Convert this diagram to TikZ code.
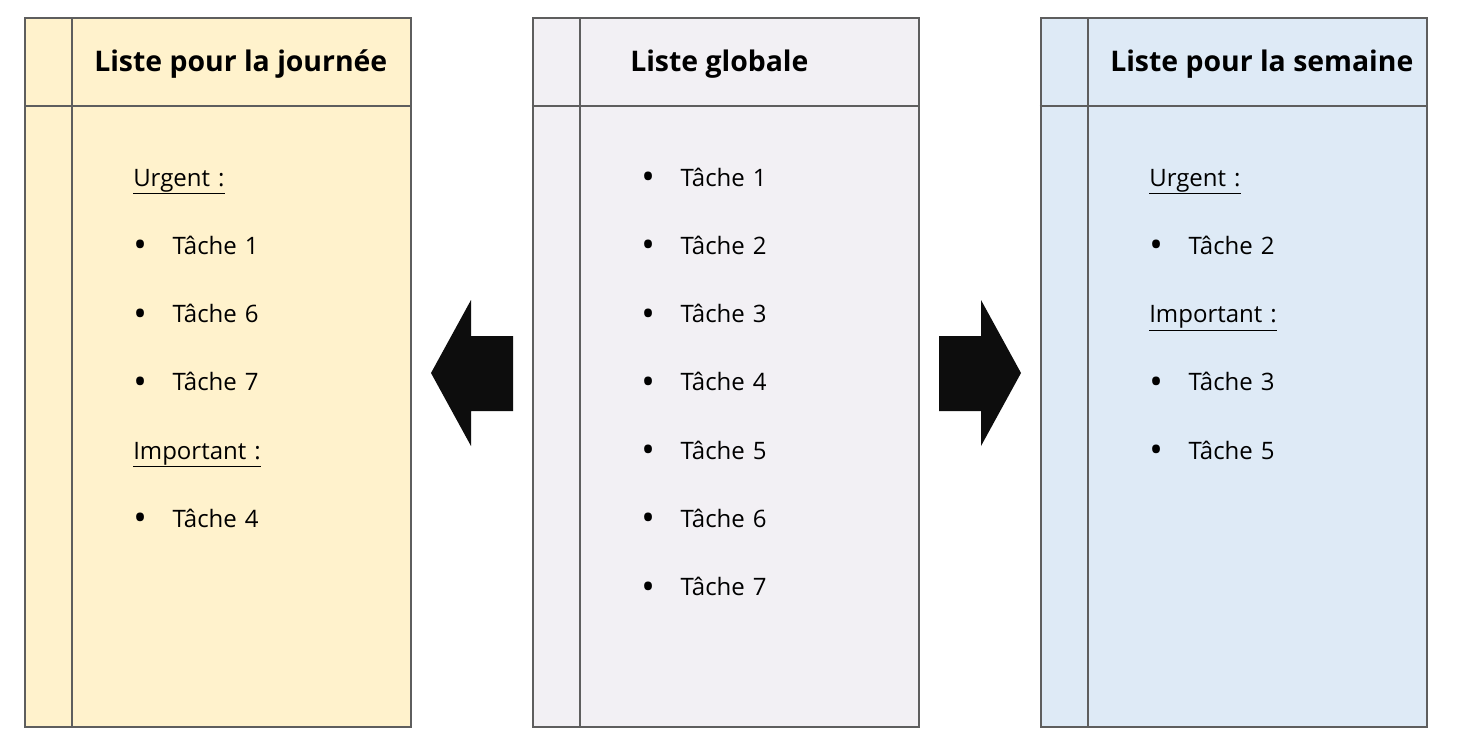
\documentclass[tikz,border=0pt]{standalone}
\usepackage{fontspec}
\setmainfont{Open Sans}
\usepackage{xcolor}
\usepackage{tikz}
\usetikzlibrary{shapes,arrows,positioning}
\definecolor{dayfill}{HTML}{FFF2CC}
\definecolor{globalfill}{HTML}{F2F0F4}
\definecolor{weekfill}{HTML}{DEEAF6}
\definecolor{framegray}{HTML}{5E5E5E}
\newcommand{\task}[1]{\makebox[29.5pt][l]{\raisebox{-2.6pt}{\scalebox{1.5}{\textbullet}}}#1}
\tikzstyle{panel} = [rectangle, draw=framegray, line width=1.5pt,
    minimum width=289.5pt, minimum height=531.75pt, inner sep=0pt]
\tikzstyle{listtitle} = [anchor=base west, inner sep=0pt,
    font=\fontsize{21.3}{24}\selectfont\bfseries]
\tikzstyle{item} = [inner sep=0pt, text width=170pt, align=left,
    text height=12pt, text depth=3pt, font=\fontsize{18}{20}\selectfont]
\tikzstyle{bigarrow} = [fill=black!95]
\tikzstyle{line} = [draw=framegray, line width=1.5pt]

\begin{document}
\begin{tikzpicture}[x=0.75pt, y=-0.75pt, node distance=51.2pt]
			\fill [white] (0,0) rectangle (1458,754);
			\useasboundingbox (0,0) rectangle (1458,754);
			% Place panels
			\node [panel, fill=dayfill] (dayPanel) at (218,372.5) {};
			\node [panel, fill=globalfill] (globalPanel) at (725.5,372.5) {};
			\node [panel, fill=weekfill] (weekPanel) at (1233.5,372.5) {};
			\path [line] ([yshift=-66.75pt]dayPanel.north west) -- ([yshift=-66.75pt]dayPanel.north east);
			\path [line] ([xshift=36pt]dayPanel.north west) -- ([xshift=36pt]dayPanel.south west);
			\path [line] ([yshift=-66.75pt]globalPanel.north west) -- ([yshift=-66.75pt]globalPanel.north east);
			\path [line] ([xshift=36pt]globalPanel.north west) -- ([xshift=36pt]globalPanel.south west);
			\path [line] ([yshift=-66.75pt]weekPanel.north west) -- ([yshift=-66.75pt]weekPanel.north east);
			\path [line] ([xshift=36pt]weekPanel.north west) -- ([xshift=36pt]weekPanel.south west);
			% Titles
			\node [listtitle] (dayTitle) at (94,71) {Liste pour la journée};
			\node [listtitle] (globalTitle) at (630,71) {Liste globale};
			\node [listtitle] (weekTitle) at (1110,71) {Liste pour la semaine};
			% Day list
			\node [item, anchor=west] (dayUrgent) at (133,180) {\underline{Urgent :}};
			\node [item, below of=dayUrgent] (dayTask1) {\task{Tâche 1}};
			\node [item, below of=dayTask1] (dayTask6) {\task{Tâche 6}};
			\node [item, below of=dayTask6] (dayTask7) {\task{Tâche 7}};
			\node [item, below of=dayTask7] (dayImportant) {\underline{Important :}};
			\node [item, below of=dayImportant] (dayTask4) {\task{Tâche 4}};
			% Global list
			\node [item, anchor=west] (globalTask1) at (641,180) {\task{Tâche 1}};
			\node [item, below of=globalTask1] (globalTask2) {\task{Tâche 2}};
			\node [item, below of=globalTask2] (globalTask3) {\task{Tâche 3}};
			\node [item, below of=globalTask3] (globalTask4) {\task{Tâche 4}};
			\node [item, below of=globalTask4] (globalTask5) {\task{Tâche 5}};
			\node [item, below of=globalTask5] (globalTask6) {\task{Tâche 6}};
			\node [item, below of=globalTask6] (globalTask7) {\task{Tâche 7}};
			% Week list
			\node [item, anchor=west] (weekUrgent) at (1149,180) {\underline{Urgent :}};
			\node [item, below of=weekUrgent] (weekTask2) {\task{Tâche 2}};
			\node [item, below of=weekTask2] (weekImportant) {\underline{Important :}};
			\node [item, below of=weekImportant] (weekTask3) {\task{Tâche 3}};
			\node [item, below of=weekTask3] (weekTask5) {\task{Tâche 5}};
			% Arrows
			\fill [bigarrow] (431,373) -- (471,300) -- (471,336) -- (513,336) -- (513,411) -- (471,411) -- (471,446) -- cycle;
			\fill [bigarrow] (1021,373) -- (981,300) -- (981,336) -- (939,336) -- (939,411) -- (981,411) -- (981,446) -- cycle;
	\end{tikzpicture}
\end{document}
